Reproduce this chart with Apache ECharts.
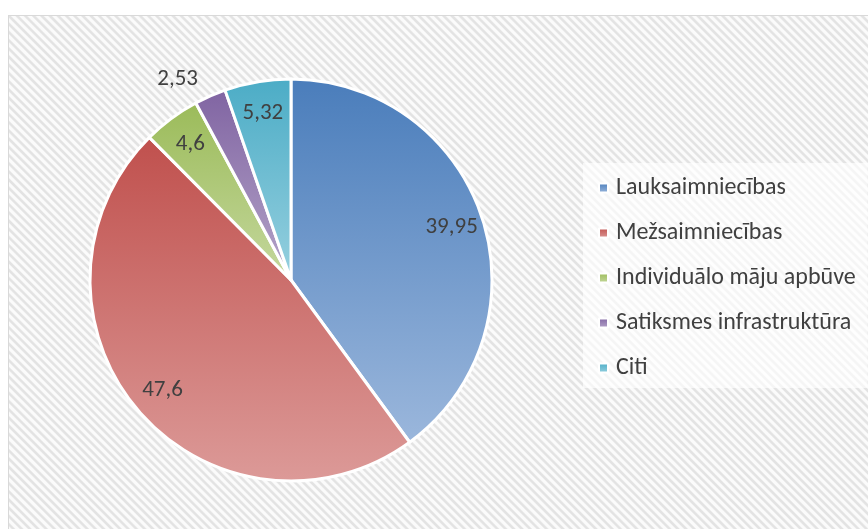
<!DOCTYPE html>
<html>
<head>
<meta charset="utf-8">
<script src="https://cdn.jsdelivr.net/npm/echarts@6/dist/echarts.min.js"></script>
<style>
  html, body { margin: 0; padding: 0; background: #ffffff; }
  #frame {
    position: absolute; left: 8px; top: 15px; width: 860px; height: 514px;
    border-left: 1px solid #d9d9d9; border-top: 1px solid #d9d9d9;
    background: repeating-linear-gradient(45deg, #fbfbfb 0px, #fbfbfb 2px, #e3e3e3 3.2px, #e3e3e3 4.6px, #fbfbfb 5.8px);
  }
  #chart { position: absolute; left: 0; top: 0; width: 868px; height: 529px; }
</style>
</head>
<body>
<div id="frame"></div>
<div id="chart"></div>
<script>
// dati
const categories = ["Lauksaimniecības", "Mežsaimniecības", "Individuālo māju apbūve", "Satiksmes infrastruktūra", "Citi"];
const values = [39.95, 47.6, 4.6, 2.53, 5.32];
const colorsTop = ["#4a7dbb", "#c0504d", "#9bbb59", "#8064a2", "#4bacc6"];
const colorsBottom = ["#9bb7dc", "#dc9a98", "#c5d89e", "#b5a5c9", "#97d0df"];

const chart = echarts.init(document.getElementById("chart"));

const fmt = (v) => String(v).replace(".", ",");

const pieData = categories.map((name, i) => ({
  name: name,
  value: values[i],
  itemStyle: {
    color: new echarts.graphic.LinearGradient(0, 0, 0, 1, [
      {offset: 0, color: colorsTop[i]},
      {offset: 1, color: colorsBottom[i]}
    ])
  }
}));

// labels ring: inside label sits at (r0 + r) / 2
const labelData = categories.map((name, i) => {
  const item = {name: name, value: values[i]};
  if (values[i] < 3) {
    item.label = {position: "outside"};
    item.labelLine = {show: false, length: 18, length2: 0};
  }
  return item;
});

const option = {
  backgroundColor: "transparent",
  animation: false,
  textStyle: {fontFamily: "Carlito, 'Open Sans', sans-serif"},
  legend: {
    orient: "vertical",
    left: 583,
    top: 163,
    padding: [13, 12, 8, 15],
    backgroundColor: "rgba(255,255,255,0.65)",
    icon: "rect",
    itemWidth: 9,
    itemHeight: 9,
    itemGap: 21,
    data: categories,
    textStyle: {
      color: "#404040",
      fontSize: 24,
      lineHeight: 24,
      padding: [0, 0, 0, 3],
      fontFamily: "Carlito, 'Open Sans', sans-serif"
    }
  },
  series: [
    {
      type: "pie",
      center: [291, 280],
      radius: 201,
      startAngle: 90,
      clockwise: true,
      avoidLabelOverlap: false,
      silent: true,
      itemStyle: {borderColor: "#ffffff", borderWidth: 3},
      label: {show: false},
      labelLine: {show: false},
      data: pieData
    },
    {
      type: "pie",
      center: [291, 280],
      radius: [131, 201],
      startAngle: 90,
      clockwise: true,
      avoidLabelOverlap: false,
      silent: true,
      itemStyle: {color: "transparent", borderWidth: 0},
      label: {
        show: true,
        position: "inside",
        color: "#404040",
        fontSize: 23,
        fontFamily: "Carlito, 'Open Sans', sans-serif",
        formatter: (p) => fmt(p.value)
      },
      labelLine: {show: false},
      data: labelData
    }
  ]
};

chart.setOption(option);
</script>
</body>
</html>
